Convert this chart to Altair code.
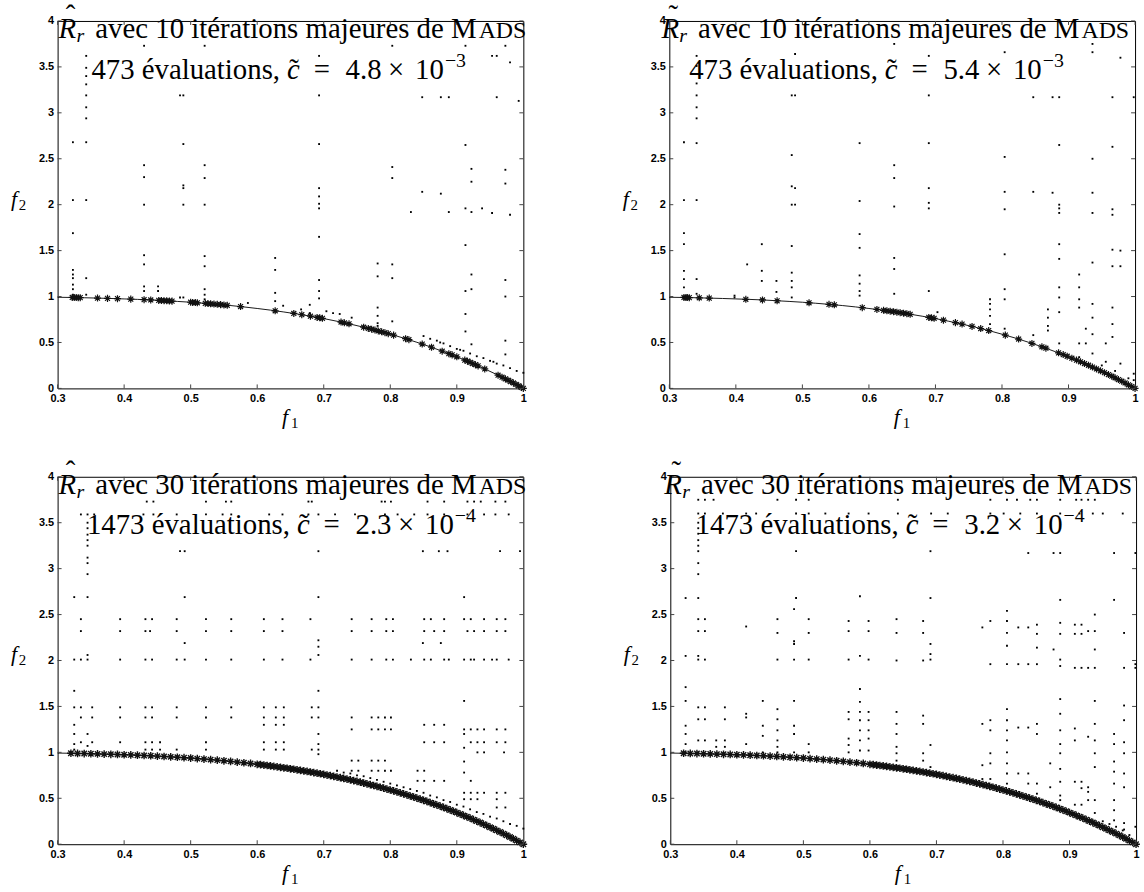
import altair as alt
import pandas as pd

# ---------------- data ----------------
X_TICKS = [0.3, 0.4, 0.5, 0.6, 0.7, 0.8, 0.9, 1.0]
Y_TICKS = [0, 0.5, 1, 1.5, 2, 2.5, 3, 3.5, 4]

# Pareto front curve (f1, f2)
CURVE_F1 = [0.30, 0.32, 0.34, 0.36, 0.38, 0.40, 0.42, 0.44, 0.46, 0.48, 0.50, 0.52, 0.54, 0.56,
            0.58, 0.60, 0.62, 0.64, 0.66, 0.68, 0.70, 0.72, 0.74, 0.76, 0.78, 0.80, 0.82, 0.84,
            0.86, 0.88, 0.90, 0.92, 0.94, 0.96, 0.98, 1.00]
CURVE_F2 = [0.992, 0.990, 0.987, 0.983, 0.979, 0.974, 0.969, 0.963, 0.955, 0.947, 0.938, 0.927,
            0.915, 0.902, 0.887, 0.870, 0.852, 0.832, 0.810, 0.786, 0.760, 0.731, 0.700, 0.666,
            0.630, 0.590, 0.548, 0.502, 0.453, 0.400, 0.344, 0.284, 0.219, 0.151, 0.078, 0.0]

# star markers (non-dominated points)
TL_STAR_F1 = [0.322, 0.325, 0.328, 0.331, 0.334, 0.360, 0.375, 0.390, 0.410, 0.430, 0.440, 0.452,
              0.456, 0.460, 0.464, 0.468, 0.472, 0.500, 0.503, 0.507, 0.510, 0.522, 0.526, 0.530,
              0.535, 0.540, 0.545, 0.550, 0.555, 0.575, 0.627, 0.655, 0.667, 0.680, 0.690, 0.694,
              0.698, 0.726, 0.731, 0.738, 0.760, 0.767, 0.772, 0.777, 0.782, 0.787, 0.792, 0.797,
              0.805, 0.823, 0.828, 0.848, 0.862, 0.878, 0.888, 0.893, 0.900, 0.912, 0.916, 0.920,
              0.924, 0.928, 0.932, 0.942, 0.962, 0.968, 0.973, 0.977, 0.981, 0.985, 0.989, 0.993,
              0.997, 1.000]
TL_STAR_F2 = [0.990, 0.989, 0.989, 0.988, 0.988, 0.983, 0.980, 0.977, 0.972, 0.966, 0.963, 0.958,
              0.957, 0.955, 0.953, 0.952, 0.950, 0.938, 0.936, 0.934, 0.932, 0.926, 0.924, 0.921,
              0.918, 0.915, 0.912, 0.908, 0.905, 0.891, 0.845, 0.816, 0.802, 0.786, 0.773, 0.768,
              0.763, 0.722, 0.714, 0.703, 0.666, 0.653, 0.644, 0.635, 0.626, 0.616, 0.606, 0.596,
              0.580, 0.541, 0.530, 0.483, 0.448, 0.405, 0.378, 0.365, 0.344, 0.308, 0.296, 0.284,
              0.271, 0.258, 0.245, 0.212, 0.144, 0.122, 0.104, 0.089, 0.074, 0.059, 0.043, 0.028,
              0.012, 0.000]

TR_STAR_F1 = [0.322, 0.325, 0.327, 0.330, 0.345, 0.360, 0.415, 0.440, 0.462, 0.510, 0.540, 0.548,
              0.590, 0.612, 0.622, 0.627, 0.632, 0.637, 0.642, 0.647, 0.652, 0.657, 0.662, 0.690,
              0.694, 0.698, 0.712, 0.730, 0.740, 0.755, 0.768, 0.780, 0.805, 0.825, 0.845, 0.860,
              0.866, 0.885, 0.892, 0.898, 0.905, 0.912, 0.918, 0.924, 0.930, 0.936, 0.942, 0.948,
              0.954, 0.960, 0.965, 0.970, 0.975, 0.980, 0.985, 0.990, 0.995, 1.000]
TR_STAR_F2 = [0.990, 0.989, 0.989, 0.988, 0.986, 0.983, 0.970, 0.963, 0.954, 0.932, 0.915, 0.910,
              0.879, 0.860, 0.850, 0.845, 0.840, 0.835, 0.830, 0.824, 0.819, 0.813, 0.807, 0.773,
              0.768, 0.763, 0.743, 0.716, 0.700, 0.675, 0.652, 0.630, 0.580, 0.537, 0.490, 0.453,
              0.438, 0.387, 0.368, 0.350, 0.329, 0.308, 0.290, 0.271, 0.252, 0.232, 0.212, 0.192,
              0.171, 0.151, 0.133, 0.115, 0.096, 0.078, 0.059, 0.039, 0.020, 0.000]

BOT_STAR_F1 = [0.32, 0.33, 0.34, 0.35, 0.36, 0.37, 0.38, 0.39, 0.40, 0.41, 0.42, 0.43, 0.44, 0.45,
               0.46, 0.47, 0.48, 0.49, 0.50, 0.51, 0.52, 0.53, 0.54, 0.55, 0.56, 0.57, 0.58, 0.59,
               0.60, 0.605, 0.61, 0.615, 0.62, 0.625, 0.63, 0.635, 0.64, 0.645, 0.65, 0.655, 0.66,
               0.665, 0.67, 0.675, 0.68, 0.685, 0.69, 0.695, 0.70, 0.705, 0.71, 0.715, 0.72, 0.725,
               0.73, 0.735, 0.74, 0.745, 0.75, 0.755, 0.76, 0.765, 0.77, 0.775, 0.78, 0.785, 0.79,
               0.795, 0.80, 0.805, 0.81, 0.815, 0.82, 0.825, 0.83, 0.835, 0.84, 0.845, 0.85, 0.855,
               0.86, 0.865, 0.87, 0.875, 0.88, 0.885, 0.89, 0.895, 0.90, 0.905, 0.91, 0.915, 0.92,
               0.925, 0.93, 0.935, 0.94, 0.945, 0.95, 0.955, 0.96, 0.965, 0.97, 0.975, 0.98, 0.985,
               0.99, 0.995, 1.00]
BOT_STAR_F2 = [0.990, 0.988, 0.987, 0.985, 0.983, 0.981, 0.979, 0.977, 0.974, 0.972, 0.969, 0.966,
               0.963, 0.959, 0.955, 0.951, 0.947, 0.942, 0.938, 0.932, 0.927, 0.921, 0.915, 0.908,
               0.902, 0.894, 0.887, 0.879, 0.870, 0.866, 0.862, 0.857, 0.852, 0.847, 0.842, 0.837,
               0.832, 0.827, 0.821, 0.816, 0.810, 0.804, 0.798, 0.792, 0.786, 0.780, 0.773, 0.767,
               0.760, 0.753, 0.746, 0.739, 0.731, 0.724, 0.716, 0.708, 0.700, 0.692, 0.684, 0.675,
               0.666, 0.657, 0.648, 0.639, 0.630, 0.620, 0.610, 0.600, 0.590, 0.580, 0.570, 0.559,
               0.548, 0.537, 0.525, 0.514, 0.502, 0.490, 0.478, 0.466, 0.453, 0.440, 0.427, 0.414,
               0.400, 0.387, 0.373, 0.359, 0.344, 0.329, 0.314, 0.299, 0.284, 0.268, 0.252, 0.236,
               0.219, 0.202, 0.185, 0.168, 0.151, 0.133, 0.115, 0.097, 0.078, 0.059, 0.039, 0.020,
               0.000]

# evaluated points: columns (f1, [f2 ...]) and rows (f2, [f1 ...])
TL_COLS = [
    (0.323, [2.68, 2.05, 1.69, 1.29, 1.24, 1.20, 1.13, 1.08, 1.02]),
    (0.343, [3.62, 3.49, 3.40, 3.31, 3.19, 3.06, 2.94, 2.68, 2.05, 1.20, 1.02]),
    (0.430, [3.73, 2.43, 2.30, 2.00, 1.45, 1.35, 1.11, 1.06]),
    (0.451, [1.11, 1.06]),
    (0.484, [3.19, 0.99]),
    (0.489, [3.19, 2.66, 2.21, 2.18, 2.00, 0.99]),
    (0.521, [3.73, 2.43, 2.29, 2.00, 1.44, 1.33, 1.08, 1.02, 0.97]),
    (0.586, [0.93]),
    (0.627, [1.42, 1.29, 1.04, 0.95]),
    (0.639, [0.90]),
    (0.666, [0.86]),
    (0.679, [0.91, 0.82]),
    (0.693, [3.62, 3.19, 2.66, 2.18, 2.09, 2.01, 1.96, 1.65, 1.18, 1.06, 0.98]),
    (0.704, [0.84]), (0.714, [0.82]), (0.724, [0.81]),
    (0.742, [0.77]),
    (0.781, [1.36, 1.22, 0.88, 0.79, 0.71, 0.68]),
    (0.803, [3.73, 2.41, 2.29, 1.35, 1.20, 0.73]),
    (0.831, [1.92]),
    (0.848, [3.17, 2.14]),
    (0.876, [3.17, 2.12]),
    (0.888, [3.17, 1.92]),
    (0.913, [3.73, 2.65, 1.96, 1.56, 1.06, 0.81, 0.62]),
    (0.922, [2.39, 2.25, 1.92, 1.24, 1.08, 0.48]),
    (0.938, [1.96]),
    (0.953, [3.62, 1.91]),
    (0.960, [3.62, 3.17]),
    (0.973, [3.73, 2.38, 2.23, 1.18, 1.00, 0.52, 0.37]),
    (0.980, [3.55, 1.89]),
    (0.993, [3.13]),
]
TL_ROWS = []
TL_TRAIL_F1 = [0.85, 0.86, 0.87, 0.875, 0.88, 0.89, 0.90, 0.905, 0.91, 0.92, 0.93, 0.94, 0.95,
               0.955, 0.96, 0.97, 0.98, 0.99, 1.0]
TL_TRAIL_F2 = [0.57, 0.54, 0.52, 0.50, 0.49, 0.46, 0.43, 0.42, 0.41, 0.38, 0.35, 0.33, 0.30,
               0.29, 0.27, 0.25, 0.22, 0.19, 0.17]

TR_COLS = [
    (0.322, [2.68, 2.05, 1.69, 1.57, 1.28, 1.19, 1.10]),
    (0.341, [3.62, 3.51, 3.32, 3.19, 3.06, 2.94, 2.67, 2.05, 1.19, 1.03]),
    (0.398, [1.01, 0.99]),
    (0.417, [1.35]),
    (0.439, [1.57, 1.28, 1.17]),
    (0.461, [1.17, 1.05]),
    (0.484, [3.19, 2.54, 2.20, 2.00, 1.55, 1.26, 1.17, 1.10, 0.99]),
    (0.489, [3.64, 3.19, 2.18, 2.00]),
    (0.586, [2.67, 2.04, 1.68, 1.53, 1.23, 1.14, 1.06, 1.01]),
    (0.638, [3.75, 2.43, 2.29, 1.98, 1.42, 1.30, 1.03]),
    (0.690, [3.62, 3.19, 2.67, 2.18, 2.02, 1.96, 1.06]),
    (0.703, [0.83]),
    (0.782, [0.97, 0.92, 0.86, 0.79, 0.70]),
    (0.804, [3.66, 2.52, 2.14, 1.95, 1.46, 1.08, 0.97, 0.65]),
    (0.847, [3.17, 2.14, 0.58]),
    (0.869, [0.86, 0.77, 0.68, 0.63]),
    (0.876, [3.17, 2.13]),
    (0.886, [3.17, 2.65, 2.00, 1.96, 1.91, 1.57, 1.41, 1.10, 0.99, 0.83, 0.49]),
    (0.916, [1.24, 1.10, 0.97, 0.88, 0.49, 0.34]),
    (0.926, [0.65, 0.49]),
    (0.936, [3.75, 3.66, 2.50, 2.13, 1.91, 1.37, 0.92, 0.77, 0.59, 0.38]),
    (0.956, [0.49, 0.29]),
    (0.966, [3.17, 2.63, 1.95, 1.89, 1.51, 1.33, 0.88, 0.70, 0.56]),
    (0.978, [3.60, 1.50, 1.33, 0.27]),
    (0.998, [3.17, 0.16, 0.09]),
]
TR_ROWS = []
TR_TRAIL_F1 = [0.95, 0.97, 0.99]
TR_TRAIL_F2 = [0.25, 0.19, 0.11]

BL_COLS = [
    (0.345, [3.50, 3.44, 3.37, 3.31, 3.25, 3.12, 3.06, 2.94, 2.06, 1.20, 1.07]),
    (0.325, [1.67, 1.49, 1.30, 1.20, 1.09, 1.03]),
    (0.692, [2.22, 2.15, 2.06, 1.67, 1.49, 1.38, 1.20, 1.09, 1.03, 0.98]),
    (0.911, [1.56, 1.20, 1.05, 0.90, 0.78]),
]
BL_ROWS = [
    (3.73, [0.434, 0.444, 0.523, 0.553, 0.561, 0.677, 0.682, 0.787, 0.792, 0.801, 0.856, 0.881,
            0.916, 0.926, 0.936, 0.958, 0.973]),
    (3.59, [0.335, 0.345, 0.355, 0.429, 0.444, 0.479, 0.523, 0.548, 0.561, 0.618, 0.638, 0.677,
            0.692, 0.717, 0.747, 0.792, 0.811, 0.836, 0.856, 0.881, 0.916, 0.941, 0.958, 0.978]),
    (3.19, [0.484, 0.491, 0.692, 0.849, 0.873, 0.886, 0.965, 0.995]),
    (2.69, [0.325, 0.345, 0.491, 0.692, 0.911]),
    (2.45, [0.335, 0.394, 0.432, 0.442, 0.479, 0.523, 0.561, 0.610, 0.638, 0.680, 0.742, 0.772,
            0.794, 0.804, 0.851, 0.861, 0.881, 0.911, 0.921, 0.941, 0.960, 0.973]),
    (2.32, [0.335, 0.394, 0.432, 0.439, 0.479, 0.523, 0.561, 0.610, 0.638, 0.742, 0.772, 0.794,
            0.804, 0.851, 0.866, 0.881, 0.916, 0.926, 0.941, 0.960, 0.973]),
    (2.19, [0.491, 0.849, 0.876]),
    (2.01, [0.325, 0.335, 0.345, 0.394, 0.432, 0.442, 0.479, 0.491, 0.523, 0.561, 0.610, 0.638,
            0.680, 0.742, 0.772, 0.794, 0.804, 0.831, 0.851, 0.861, 0.881, 0.888, 0.911, 0.921,
            0.926, 0.941, 0.953, 0.960, 0.978]),
    (1.49, [0.335, 0.352, 0.394, 0.432, 0.442, 0.479, 0.523, 0.561, 0.610, 0.628, 0.640, 0.682]),
    (1.38, [0.335, 0.352, 0.394, 0.432, 0.442, 0.479, 0.523, 0.561, 0.610, 0.628, 0.640, 0.682,
            0.742, 0.772, 0.782, 0.792, 0.801]),
    (1.30, [0.610, 0.628, 0.640, 0.851, 0.866, 0.881]),
    (1.25, [0.742, 0.772, 0.782, 0.792, 0.801, 0.911, 0.921, 0.931, 0.941, 0.960, 0.973]),
    (1.11, [0.335, 0.352, 0.394, 0.432, 0.442, 0.454, 0.523, 0.610, 0.628, 0.640, 0.851, 0.866,
            0.881, 0.921, 0.931, 0.941, 0.960, 0.973]),
    (1.03, [0.432, 0.442, 0.454, 0.479, 0.523, 0.610, 0.628, 0.640, 0.682]),
    (1.00, [0.931, 0.941, 0.971]),
    (0.91, [0.742, 0.752, 0.772, 0.782, 0.792]),
    (0.80, [0.742, 0.752, 0.772, 0.782, 0.792, 0.801, 0.841, 0.851]),
    (0.69, [0.841, 0.851, 0.866, 0.881, 0.921]),
    (0.56, [0.911, 0.921, 0.931, 0.941, 0.960, 0.973]),
    (0.49, [0.911, 0.921, 0.931, 0.960]),
    (0.40, [0.960, 0.973]),
]
BL_TRAIL_F1 = [0.72, 0.73, 0.74, 0.75, 0.76, 0.77, 0.78, 0.79, 0.80, 0.81, 0.82, 0.83, 0.84,
               0.85, 0.86, 0.87, 0.88, 0.89, 0.90, 0.91, 0.92, 0.93, 0.94, 0.95, 0.96, 0.97,
               0.98, 0.99, 1.00]
BL_TRAIL_F2 = [0.80, 0.78, 0.77, 0.75, 0.74, 0.72, 0.70, 0.68, 0.66, 0.64, 0.62, 0.60, 0.58,
               0.56, 0.53, 0.51, 0.48, 0.46, 0.43, 0.41, 0.38, 0.35, 0.33, 0.30, 0.28, 0.25,
               0.22, 0.20, 0.17]

BR_COLS = [
    (0.342, [3.50, 3.44, 3.38, 3.31, 3.25, 3.19, 3.06, 2.94, 2.68, 2.45, 2.32, 2.05, 2.01, 1.49,
             1.36, 1.13, 1.00]),
    (0.323, [2.68, 2.05, 1.71, 1.56, 1.29, 1.20, 1.09, 1.00]),
    (0.352, [2.45, 2.32, 2.01, 1.49, 1.36, 1.13]),
    (0.369, [1.13, 1.06]),
    (0.382, [1.49, 1.36, 1.13, 1.06]),
    (0.414, [2.37, 1.42, 1.38, 1.09]),
    (0.439, [1.56, 1.29, 1.18, 1.00]),
    (0.461, [2.45, 2.30, 2.01, 1.47, 1.36, 1.24, 1.13, 1.06, 1.00]),
    (0.486, [2.56, 2.21, 2.18, 2.01, 1.56, 1.29, 1.20, 1.00]),
    (0.489, [3.19, 2.68]),
    (0.508, [2.45, 2.30, 2.01, 1.09, 1.00]),
    (0.568, [2.43, 2.32, 2.01, 1.44, 1.36, 1.15, 1.08, 1.00]),
    (0.585, [2.70, 2.05, 1.69, 1.55, 1.44, 1.35, 1.24, 1.13, 1.02]),
    (0.598, [2.43, 2.32, 2.01, 1.44, 1.35, 1.24, 1.15, 1.02]),
    (0.640, [2.45, 2.30, 2.00, 1.44, 1.31, 1.20, 1.06, 0.99, 0.91]),
    (0.680, [2.43, 2.30, 2.00, 1.40, 1.31, 0.99, 0.91]),
    (0.691, [3.19, 2.68, 2.18, 2.07, 2.01, 1.08, 0.84]),
    (0.769, [2.36, 1.31, 0.86, 0.71]),
    (0.781, [2.43, 1.96, 1.35, 1.24, 0.99, 0.88, 0.71]),
    (0.806, [2.54, 2.43, 2.30, 2.16, 1.96, 1.47, 1.35, 1.24, 1.13, 1.00, 0.88, 0.77, 0.66]),
    (0.823, [2.36, 1.96, 1.27, 0.77]),
    (0.838, [2.36, 1.96, 1.27, 0.77, 0.66]),
    (0.851, [2.39, 2.29, 2.14, 1.96, 1.31, 1.20, 0.66, 0.55]),
    (0.871, [0.88, 0.62]),
    (0.876, [2.12]),
    (0.886, [2.66, 2.41, 2.29, 2.01, 1.94, 1.58, 1.42, 1.24, 1.09, 0.99, 0.82, 0.68, 0.53, 0.48]),
    (0.908, [2.39, 2.29, 1.92, 1.26, 1.13, 0.68, 0.43]),
    (0.918, [2.39, 2.29, 1.92, 0.68, 0.61, 0.43]),
    (0.928, [2.32, 1.92, 1.17, 0.62, 0.57, 0.48]),
    (0.938, [2.50, 2.32, 2.12, 1.92, 1.56, 1.31, 1.13, 0.99, 0.84, 0.48, 0.34]),
    (0.967, [2.66, 1.20, 1.09, 0.90, 0.79, 0.66, 0.48, 0.37, 0.26]),
    (0.982, [2.30, 1.92, 1.51, 1.35, 1.11, 0.99, 0.77, 0.62, 0.23, 0.16]),
    (0.999, [1.96, 1.92, 0.19]),
]
BR_ROWS = [
    (3.75, [0.342, 0.352, 0.365, 0.461, 0.489, 0.508, 0.642, 0.781, 0.806, 0.821, 0.841, 0.851,
            0.886, 0.910, 0.918, 0.928, 0.938]),
    (3.60, [0.342, 0.352, 0.379, 0.414, 0.429, 0.489, 0.508, 0.533, 0.568, 0.598, 0.642, 0.692,
            0.717, 0.781, 0.801, 0.826, 0.851, 0.886, 0.915, 0.935, 0.950, 0.980]),
    (3.17, [0.838, 0.876, 0.886, 0.967, 0.999]),
]
BR_TRAIL_F1 = [0.95, 0.96, 0.97, 0.98, 0.99]
BR_TRAIL_F2 = [0.25, 0.22, 0.19, 0.15, 0.10]

# title texts
ACCENTS = ["\u02c6", "\u02dc", "\u02c6", "\u02dc"]
ITERS = ["10", "10", "30", "30"]
EVALS = ["473", "473", "1473", "1473"]
CVALS = ["4.8", "5.4", "2.3", "3.2"]
EXPS = ["\u22123", "\u22123", "\u22124", "\u22124"]

# ---------------- layout ----------------
W, H = 469, 370
L1X = [1, -8, 1, -6]
C_X = [231, 217, 241, 237]
Y1, Y2 = 17, 58
SERIF = "Liberation Serif"
SANS = "Liberation Sans"
ASTERISK = "M-1,0H1M0,-1V1M-0.7,-0.7L0.7,0.7M-0.7,0.7L0.7,-0.7"

XS = alt.Scale(domain=[0.3, 1.0], nice=False, zero=False)
YS = alt.Scale(domain=[0, 4], nice=False, zero=False)
XAXIS = alt.Axis(values=X_TICKS, format="~g", ticks=False, domain=False, grid=False,
                 labelFont=SANS, labelFontWeight="bold", labelFontSize=11,
                 labelColor="black", labelPadding=4, labelFlush=False,
                 labelOverlap=False, title=None)
YAXIS = alt.Axis(values=Y_TICKS, format="~g", ticks=False, domain=False, grid=False,
                 labelFont=SANS, labelFontWeight="bold", labelFontSize=11,
                 labelColor="black", labelPadding=4, labelFlush=False,
                 labelOverlap=False, title=None)
ONE = pd.DataFrame({"k": [0]})


def dots_frame(cols, rows, tf1, tf2):
    a, b = [], []
    for x, ys in cols:
        for y in ys:
            a.append(x)
            b.append(y)
    for y, xs in rows:
        for x in xs:
            a.append(x)
            b.append(y)
    a += list(tf1)
    b += list(tf2)
    return pd.DataFrame({"f1": a, "f2": b})


def txt(text, x, y, size=29, style="normal", align="left", font=SERIF):
    return alt.Chart(ONE).mark_text(
        align=align, baseline="alphabetic", font=font, fontSize=size,
        fontStyle=style, color="black"
    ).encode(x=alt.value(x), y=alt.value(y), text=alt.value(text))


def X(field):
    return alt.X(field, scale=XS, axis=XAXIS)


def Y(field):
    return alt.Y(field, scale=YS, axis=YAXIS)


def panel(i, dots, sf1, sf2, star_size, star_w):
    dot_layer = alt.Chart(dots).mark_square(size=3.5, color="black", opacity=1).encode(
        x=X("f1:Q"), y=Y("f2:Q"))
    curve = alt.Chart(pd.DataFrame({"f1": CURVE_F1, "f2": CURVE_F2})).mark_line(
        color="black", strokeWidth=0.9).encode(x=X("f1:Q"), y=Y("f2:Q"))
    stars = alt.Chart(pd.DataFrame({"f1": sf1, "f2": sf2})).mark_point(
        shape=ASTERISK, filled=False, color="#111", strokeWidth=star_w, size=star_size,
        opacity=1).encode(x=X("f1:Q"), y=Y("f2:Q"))
    xt = pd.DataFrame({"f1": X_TICKS})
    yt = pd.DataFrame({"f2": Y_TICKS})
    tb = alt.Chart(xt).mark_rule(color="#444", strokeWidth=1).encode(
        x=X("f1:Q"), y=alt.value(H), y2=alt.value(H - 4))
    tt = alt.Chart(xt).mark_rule(color="#444", strokeWidth=1).encode(
        x=X("f1:Q"), y=alt.value(0), y2=alt.value(4))
    tl = alt.Chart(yt).mark_rule(color="#444", strokeWidth=1).encode(
        y=Y("f2:Q"), x=alt.value(0), x2=alt.value(4))
    tr = alt.Chart(yt).mark_rule(color="#444", strokeWidth=1).encode(
        y=Y("f2:Q"), x=alt.value(W), x2=alt.value(W - 4))

    l1 = L1X[i]
    c = C_X[i]
    texts = [
        txt("R", l1, Y1, style="italic"),
        txt(ACCENTS[i], l1 + 12, 4, align="center"),
        txt("r", l1 + 18, Y1 + 4, size=20, style="italic"),
        txt("avec " + ITERS[i] + " itérations majeures de M", l1 + 37, Y1),
        txt("ADS", l1 + 423, Y1, size=24),
        txt(EVALS[i] + " évaluations,", c - 7, Y2, align="right"),
        txt("c", c, Y2, style="italic"),
        txt("\u02dc", c + 7, Y2, align="center"),
        txt("=", c + 35, Y2, align="center"),
        txt(CVALS[i], c + 59, Y2),
        txt("\u00d7", c + 110, Y2, align="center"),
        txt("10", c + 129, Y2),
        txt(EXPS[i], c + 159, Y2 - 12, size=20),
        # axis titles
        txt("f", -47, 186, size=22, style="italic"),
        txt("2", -39, 190, size=15),
        txt("f", 226, H + 36, size=22, style="italic"),
        txt("1", 235, H + 40, size=15),
    ]
    return alt.layer(dot_layer, curve, stars, tb, tt, tl, tr, *texts).properties(width=W, height=H)


p0 = panel(0, dots_frame(TL_COLS, TL_ROWS, TL_TRAIL_F1, TL_TRAIL_F2), TL_STAR_F1, TL_STAR_F2, 50, 1.2)
p1 = panel(1, dots_frame(TR_COLS, TR_ROWS, TR_TRAIL_F1, TR_TRAIL_F2), TR_STAR_F1, TR_STAR_F2, 50, 1.2)
p2 = panel(2, dots_frame(BL_COLS, BL_ROWS, BL_TRAIL_F1, BL_TRAIL_F2), BOT_STAR_F1, BOT_STAR_F2, 60, 1.4)
p3 = panel(3, dots_frame(BR_COLS, BR_ROWS, BR_TRAIL_F1, BR_TRAIL_F2), BOT_STAR_F1, BOT_STAR_F2, 60, 1.4)

top = alt.hconcat(p0, p1, spacing=92)
bot = alt.hconcat(p2, p3, spacing=92)
chart = alt.vconcat(top, bot, spacing=25).properties(
    padding={"left": 10, "top": -2, "right": 0, "bottom": 0},
    background="white",
).configure_view(stroke="black", strokeWidth=1)

chart.save("out.html", embed_options={"renderer": "svg", "actions": False})
